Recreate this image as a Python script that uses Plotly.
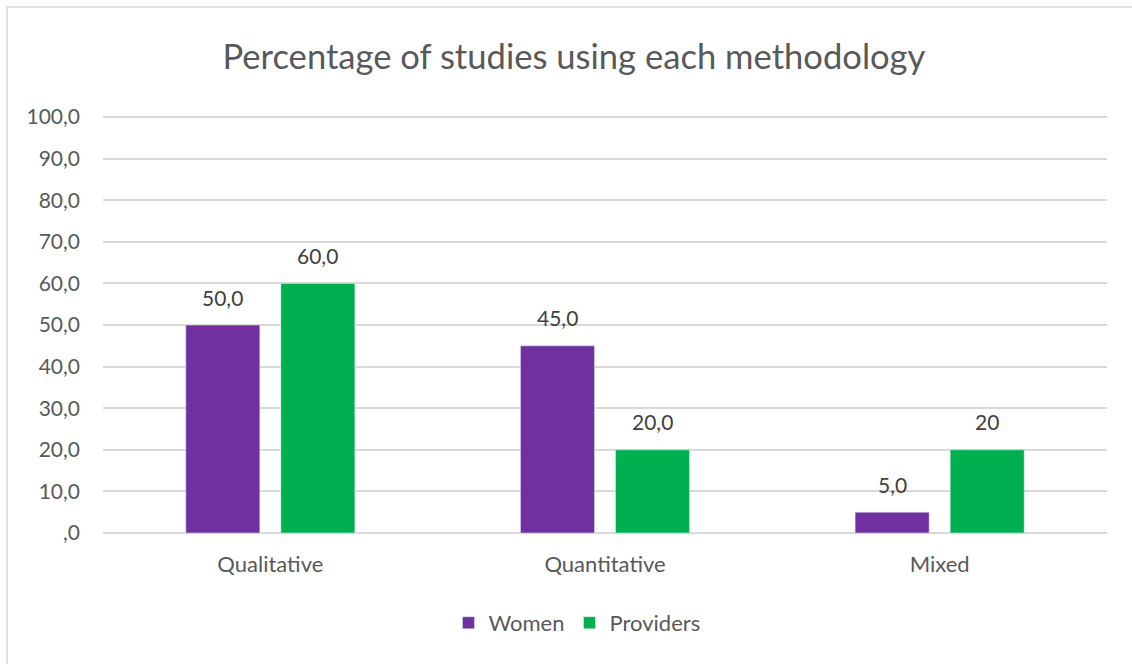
import plotly.graph_objects as go

categories = ["Qualitative", "Quantitative", "Mixed"]
women = [50.0, 45.0, 5.0]
providers = [60.0, 20.0, 20.0]
women_labels = ["50,0", "45,0", "5,0"]
providers_labels = ["60,0", "20,0", "20"]
y_tick_vals = [0, 10, 20, 30, 40, 50, 60, 70, 80, 90, 100]
y_tick_text = [",0", "10,0", "20,0", "30,0", "40,0", "50,0", "60,0", "70,0", "80,0", "90,0", "100,0"]

FONT = "Lato"
BARGAP = 0.432
GROUPGAP = 0.221
xs = list(range(len(categories)))
slot = (1 - BARGAP) / 2  # width of each series slot in category units

fig = go.Figure()
fig.add_trace(go.Bar(name="Women", x=xs, y=women, marker_color="#7030A0"))
fig.add_trace(go.Bar(name="Providers", x=xs, y=providers, marker_color="#00B050"))

annotations = []
for series_idx, (vals, labels) in enumerate([(women, women_labels), (providers, providers_labels)]):
    for i, (v, lab) in enumerate(zip(vals, labels)):
        annotations.append(dict(
            x=xs[i] + (series_idx - 0.5) * slot, y=v, xref="x", yref="y",
            text=lab, showarrow=False, yanchor="middle", yshift=28,
            font=dict(size=21, color="#404040", family=FONT)))

L, R, T, B = 103, 25, 116, 131
W, H = 1132, 664
pw, ph = W - L - R, H - T - B

def px2x(p):
    return (p - L) / pw

def py2y(p):
    return (H - B - p) / ph

fig.update_layout(
    width=W, height=H,
    margin=dict(l=L, r=R, t=T, b=B),
    paper_bgcolor="white", plot_bgcolor="white",
    font=dict(family=FONT, color="#595959", size=21),
    title=dict(text="Percentage of studies using each methodology",
               x=0.507, xanchor="center", y=1 - 57 / H, yanchor="middle",
               font=dict(size=34.6, color="#595959", family=FONT)),
    barmode="group", bargap=BARGAP, bargroupgap=GROUPGAP,
    showlegend=True,
    legend=dict(orientation="h", x=px2x(577), xanchor="center",
                y=py2y(623), yanchor="middle",
                font=dict(size=22, color="#595959", family=FONT),
                itemwidth=30, traceorder="normal"),
    xaxis=dict(tickvals=xs, ticktext=categories, range=[-0.5, len(xs) - 0.5],
               showgrid=False, showline=False, ticks="", zeroline=False,
               ticklabelstandoff=16, tickfont=dict(size=22, color="#595959")),
    yaxis=dict(range=[0, 100.25], tickvals=y_tick_vals, ticktext=y_tick_text,
               showgrid=True, gridcolor="#D9D9D9", gridwidth=1.5,
               zeroline=True, zerolinecolor="#D9D9D9", zerolinewidth=1.5,
               showline=False, ticks="", ticklabelstandoff=22,
               tickfont=dict(size=21, color="#595959")),
    annotations=annotations,
    shapes=[dict(type="rect", xref="paper", yref="paper",
                 x0=px2x(7), x1=px2x(1145), y0=py2y(680), y1=py2y(7),
                 line=dict(color="#D9D9D9", width=1.5), fillcolor="rgba(0,0,0,0)",
                 layer="below")],
)

fig.write_html("out.html", config={"displayModeBar": False},
               post_script="document.body.style.margin='0';")
